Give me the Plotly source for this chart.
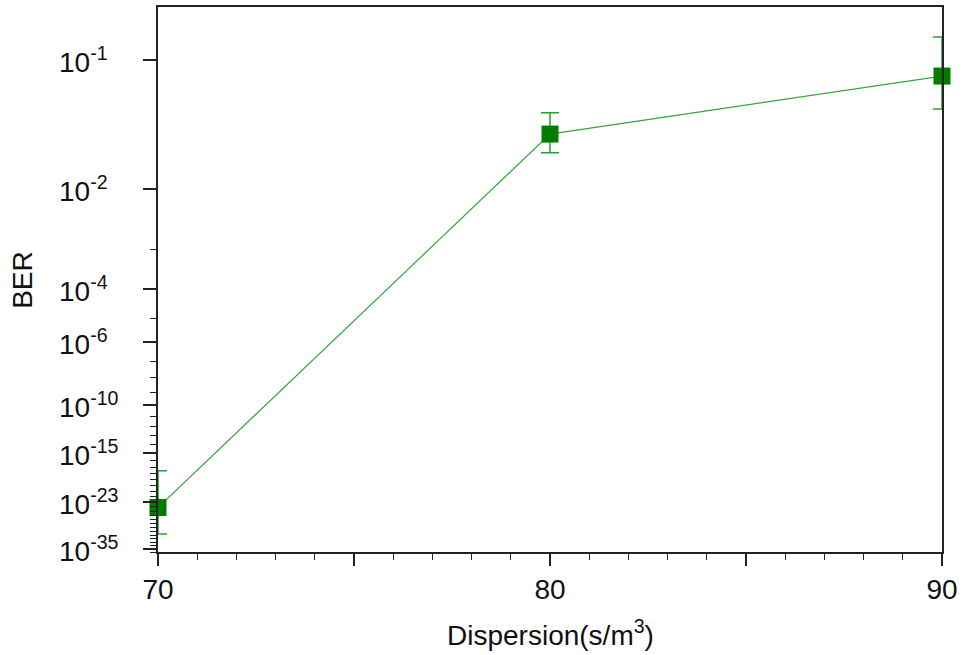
import math
import plotly.graph_objects as go

# Measured BER versus fibre dispersion
dispersion = [70, 80, 90]
ber = [6e-25, 3.55e-2, 8.4e-2]
ber_max = [2.8e-18, 5.1e-2, 1.25e-1]
ber_min = [2.2e-31, 2.45e-2, 5.4e-2]

# BER axis decades: labelled ones and the minor ones (every integer exponent)
major_exp = [-1, -2, -4, -6, -10, -15, -23, -35]
minor_exp = [e for e in range(-3, -37, -1) if e not in major_exp]
axis_floor_exp = -36

FONT = "Liberation Sans, Arial, sans-serif"


def q_factor(p):
    """Invert p = 0.5*erfc(Q/sqrt(2)) by bisection (log space)."""
    target = math.log(p)
    lo, hi = 0.0, 20.0
    for _ in range(200):
        mid = 0.5 * (lo + hi)
        val = math.log(0.5 * math.erfc(mid / math.sqrt(2)))
        if val > target:
            lo = mid
        else:
            hi = mid
    return 0.5 * (lo + hi)


def ber_scale(p):
    # BER plotted on a log(Q) scale, as in BER analyser charts
    return math.log10(q_factor(p))


y = [ber_scale(v) for v in ber]
y_hi = [ber_scale(v) for v in ber_max]
y_lo = [ber_scale(v) for v in ber_min]
# axis runs top-down in Q, so "up" in BER is a smaller Q value
err_up = [c - h for c, h in zip(y, y_hi)]
err_down = [l - c for c, l in zip(y, y_lo)]

fig = go.Figure()
fig.add_trace(go.Scatter(
    x=dispersion, y=y, mode="lines",
    line=dict(color="#3aa53a", width=1.2),
    error_y=dict(type="data", symmetric=False, array=err_down, arrayminus=err_up,
                 color="#2e9e2e", thickness=1.5, width=9),
    showlegend=False, hoverinfo="skip",
))
fig.add_trace(go.Scatter(
    x=dispersion, y=y, mode="markers",
    marker=dict(symbol="square", size=17, color="#007c00",
                line=dict(width=0)),
    cliponaxis=False, showlegend=False,
))

y_bottom = ber_scale(10.0 ** axis_floor_exp)

fig.update_xaxes(
    range=[70, 90],
    tickmode="array", tickvals=[70, 75, 80, 85, 90],
    ticktext=["70", "", "80", "", "90"],
    ticks="outside", ticklen=12, tickwidth=1.5, tickcolor="#222",
    minor=dict(tickmode="linear", tick0=70, dtick=1, ticks="outside",
               ticklen=6, tickwidth=1.2, tickcolor="#222"),
    showline=True, linecolor="#222", linewidth=1.5, mirror=True,
    showgrid=False, zeroline=False,
    tickfont=dict(family=FONT, size=28, color="#111"),
)
fig.update_yaxes(
    range=[y_bottom, 0],
    tickmode="array", tickvals=[ber_scale(10.0 ** e) for e in major_exp],
    showticklabels=False,
    ticks="outside", ticklen=13, tickwidth=1.5, tickcolor="#222",
    minor=dict(tickmode="array", tickvals=[ber_scale(10.0 ** e) for e in minor_exp],
               ticks="outside", ticklen=6, tickwidth=1.2, tickcolor="#222"),
    showline=True, linecolor="#222", linewidth=1.5, mirror=True,
    showgrid=False, zeroline=False,
)

annotations = []
for e in major_exp:
    annotations.append(dict(
        text=f"10<sup>{e}</sup>", xref="paper", yref="y",
        x=-0.129, y=ber_scale(10.0 ** e), xanchor="left", yanchor="middle",
        showarrow=False, font=dict(family=FONT, size=28, color="#111"),
    ))
annotations.append(dict(
    text="BER", xref="paper", yref="paper", x=-0.173, y=0.5,
    xanchor="center", yanchor="middle", textangle=-90, showarrow=False,
    font=dict(family=FONT, size=28, color="#111"),
))
annotations.append(dict(
    text="Dispersion(s/m<sup>3</sup>)", xref="paper", yref="paper",
    x=0.5, y=-0.148, xanchor="center", yanchor="middle", showarrow=False,
    font=dict(family=FONT, size=28, color="#111"),
))

fig.update_layout(
    width=964, height=655,
    margin=dict(l=158, r=22, t=5, b=103),
    paper_bgcolor="white", plot_bgcolor="white",
    annotations=annotations,
)

fig.write_html("out.html")
